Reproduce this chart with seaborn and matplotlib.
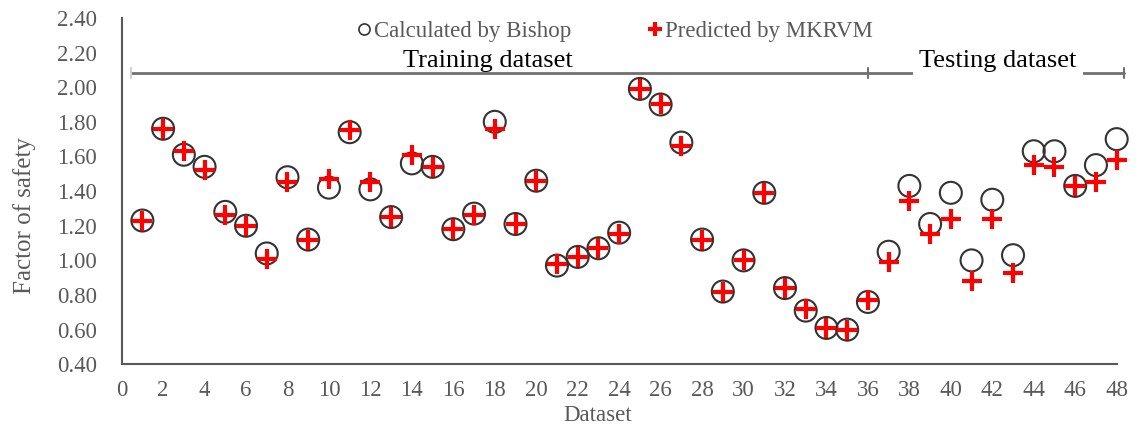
import numpy as np
import pandas as pd
import matplotlib
matplotlib.use("Agg")
import matplotlib.pyplot as plt
import seaborn as sns
from matplotlib.lines import Line2D

# ---- data ----
dataset = list(range(1, 49))
bishop = [1.23, 1.76, 1.61, 1.54, 1.28, 1.20, 1.04, 1.48, 1.12, 1.42,
          1.74, 1.41, 1.25, 1.56, 1.54, 1.18, 1.27, 1.80, 1.21, 1.46,
          0.97, 1.02, 1.07, 1.16, 1.99, 1.90, 1.68, 1.12, 0.82, 1.00,
          1.39, 0.84, 0.71, 0.61, 0.60, 0.76, 1.05, 1.43, 1.21, 1.39,
          1.00, 1.35, 1.03, 1.63, 1.63, 1.43, 1.55, 1.70]
mkrvm = [1.23, 1.76, 1.63, 1.52, 1.26, 1.20, 1.01, 1.45, 1.12, 1.47,
         1.75, 1.45, 1.25, 1.61, 1.54, 1.18, 1.26, 1.76, 1.21, 1.46,
         0.98, 1.02, 1.07, 1.15, 1.99, 1.90, 1.66, 1.12, 0.82, 1.00,
         1.39, 0.84, 0.72, 0.61, 0.60, 0.77, 0.99, 1.34, 1.15, 1.24,
         0.88, 1.24, 0.93, 1.55, 1.54, 1.43, 1.45, 1.58]
legend_labels = ["Calculated by Bishop", "Predicted by MKRVM"]
split_labels = ["Training dataset", "Testing dataset"]
x_ticks = list(range(0, 49, 2))
y_ticks = [0.40, 0.60, 0.80, 1.00, 1.20, 1.40, 1.60, 1.80, 2.00, 2.20, 2.40]

df = pd.DataFrame({"Dataset": dataset, "Bishop": bishop, "MKRVM": mkrvm})

sns.set_style("white")
plt.rcParams["font.family"] = ["Liberation Serif", "DejaVu Serif"]

GREY = "#595959"
fig = plt.figure(figsize=(11.39, 4.32), dpi=100)
ax = fig.add_axes([0.1068, 0.1567, 0.8736, 0.8019])

sns.scatterplot(data=df, x="Dataset", y="Bishop", ax=ax, marker="o", s=250,
                facecolors="none", edgecolor="#333333", linewidth=1.5, zorder=3,
                clip_on=False)
sns.scatterplot(data=df, x="Dataset", y="MKRVM", ax=ax, marker="+", s=190,
                color="#ff0000", linewidth=3.0, zorder=4, clip_on=False)

ax.set_xlim(0, 48)
ax.set_ylim(0.40, 2.40)
ax.set_xticks(x_ticks)
ax.set_yticks(y_ticks)
ax.set_yticklabels([f"{v:.2f}" for v in y_ticks])
for s in ["top", "right"]:
    ax.spines[s].set_visible(False)
for s in ["left", "bottom"]:
    ax.spines[s].set_color("#595959")
    ax.spines[s].set_linewidth(1.5)
ax.tick_params(axis="both", direction="in", length=5, width=1.2, color="#595959",
               labelcolor=GREY, labelsize=16.5)
ax.tick_params(axis="y", pad=18)
ax.tick_params(axis="x", pad=11)

ax.set_xlabel("Dataset", fontsize=16.5, color=GREY)
ax.set_ylabel("Factor of safety", fontsize=18, color=GREY)
ax.xaxis.set_label_coords(0.478, -0.118)
ax.yaxis.set_label_coords(-0.086, 0.43)

# bracket line for training / testing split
yb = 2.082
ax.plot([0.45, 48.36], [yb, yb], color="#707070", lw=2, clip_on=False, zorder=2)
for xx, c in [(0.45, "#d0d0d0"), (36, "#707070"), (48.36, "#707070")]:
    ax.plot([xx, xx], [yb - 0.028, yb + 0.028], color=c, lw=1.5, clip_on=False, zorder=2)
ax.text(17.65, yb + 0.008, split_labels[0], ha="center", va="bottom",
        fontsize=19, color="black")
ax.text(42.27, yb + 0.008, split_labels[1], ha="center", va="bottom",
        fontsize=19, color="black",
        bbox=dict(facecolor="white", edgecolor="none", pad=4.5))

handles = [
    Line2D([], [], marker="o", linestyle="", markerfacecolor="none",
           markeredgecolor="#333333", markersize=8, markeredgewidth=1.2),
    Line2D([], [], marker="+", linestyle="", color="#ff0000",
           markersize=10, markeredgewidth=3),
]
leg = ax.legend(handles, legend_labels, ncol=2, frameon=False,
                loc="center left", bbox_to_anchor=(0.227, 0.962),
                fontsize=16.5, handlelength=0.6, handletextpad=0.15,
                columnspacing=3.35, borderaxespad=0)
for t in leg.get_texts():
    t.set_color(GREY)

fig.savefig("out.png", dpi=100)
